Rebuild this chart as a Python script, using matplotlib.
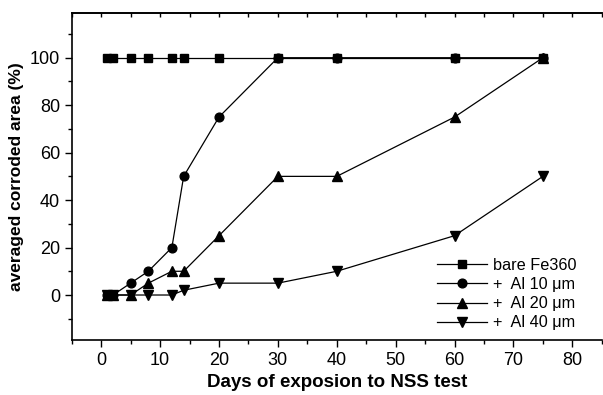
import matplotlib
matplotlib.use('Agg')
import matplotlib.pyplot as plt
from matplotlib.ticker import MultipleLocator

# exposure days and corroded area (%) per sample
days = [1, 2, 5, 8, 12, 14, 20, 30, 40, 60, 75]
bare_fe360 = [100, 100, 100, 100, 100, 100, 100, 100, 100, 100, 100]
al_10 = [0, 0, 5, 10, 20, 50, 75, 100, 100, 100, 100]
al_20 = [0, 0, 0, 5, 10, 10, 25, 50, 50, 75, 100]
al_40 = [0, 0, 0, 0, 0, 2, 5, 5, 10, 25, 50]

labels = ['bare Fe360', '+  Al 10 \u03bcm', '+  Al 20 \u03bcm', '+  Al 40 \u03bcm']
markers = ['s', 'o', '^', 'v']
sizes = [5.3, 6.3, 7, 7]

plt.rcParams['font.family'] = ['Liberation Sans', 'DejaVu Sans']

fig = plt.figure(figsize=(6.03, 3.95), dpi=100)
ax = fig.add_axes([0.119, 0.139, 0.879, 0.829])

for vals, mk, ms, lab in zip([bare_fe360, al_10, al_20, al_40], markers, sizes, labels):
    ax.plot(days, vals, color='black', lw=0.9, marker=mk, ms=ms,
            markeredgecolor='black', markerfacecolor='black', label=lab)

ax.set_xlim(-5, 85)
ax.set_ylim(-19, 119)
ax.xaxis.set_major_locator(MultipleLocator(10))
ax.xaxis.set_minor_locator(MultipleLocator(5))
ax.set_yticks([0, 20, 40, 60, 80, 100])
ax.set_yticks([-10, 10, 30, 50, 70, 90, 110], minor=True)

ax.tick_params(axis='both', which='major', direction='out', length=5, width=1,
               labelsize=13, top=False, right=False)
ax.tick_params(axis='both', which='minor', direction='out', length=3, width=1,
               top=False, right=False)
ax.spines['right'].set_visible(False)
for s in ['left', 'bottom', 'top']:
    ax.spines[s].set_linewidth(1.2)

# top axis: ticks pointing inward, no labels
top = ax.secondary_xaxis('top')
top.xaxis.set_major_locator(MultipleLocator(5))
top.tick_params(direction='in', length=3, width=1, labeltop=False)
top.spines['top'].set_linewidth(1.2)

ax.set_xlabel('Days of exposion to NSS test', fontsize=13.5, fontweight='bold', labelpad=4)
ax.set_ylabel('averaged corroded area (%)', fontsize=12.5, fontweight='bold', labelpad=4)

ax.legend(loc='lower left', bbox_to_anchor=(0.689, 0.03), frameon=False,
          fontsize=11.7, handlelength=3.1, handletextpad=0.37, labelspacing=0.25,
          borderaxespad=0, borderpad=0)

plt.savefig('out.png', dpi=100)
plt.close(fig)
